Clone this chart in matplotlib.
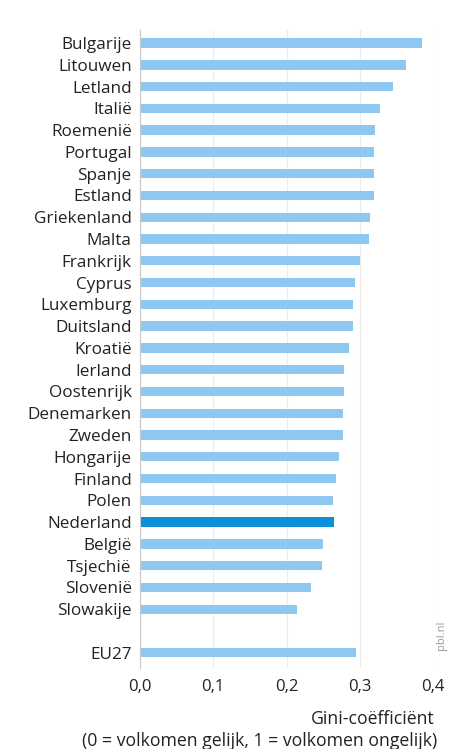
import matplotlib.pyplot as plt
import numpy as np

plt.rcParams['font.family'] = ['Open Sans', 'DejaVu Sans']

countries = ["Bulgarije", "Litouwen", "Letland", "Italië", "Roemenië", "Portugal",
             "Spanje", "Estland", "Griekenland", "Malta", "Frankrijk", "Cyprus",
             "Luxemburg", "Duitsland", "Kroatië", "Ierland", "Oostenrijk",
             "Denemarken", "Zweden", "Hongarije", "Finland", "Polen", "Nederland",
             "België", "Tsjechië", "Slovenië", "Slowakije"]
gini = [0.385, 0.363, 0.345, 0.327, 0.321, 0.320, 0.320, 0.320, 0.314, 0.313,
        0.300, 0.293, 0.291, 0.291, 0.285, 0.278, 0.278, 0.277, 0.277, 0.272,
        0.268, 0.264, 0.265, 0.250, 0.249, 0.234, 0.215]
eu_label = "EU27"
eu_value = 0.295
xticks = [0.0, 0.1, 0.2, 0.3, 0.4]
xticklabels = ["0,0", "0,1", "0,2", "0,3", "0,4"]

light = "#8ec8f0"
dark = "#0a8fd8"
text_col = "#222222"

fig = plt.figure(figsize=(4.57, 7.49), dpi=100)
ax = fig.add_axes([140 / 457, 1 - 668 / 749, 293 / 457, 638 / 749])

ypos = list(range(len(countries))) + [len(countries) + 1]
values = gini + [eu_value]
labels = countries + [eu_label]
colors = [dark if c == "Nederland" else light for c in labels]

ax.barh(ypos, values, height=0.43, color=colors, zorder=2)

ax.set_ylim(len(countries) + 1.7, -0.6)
ax.set_xlim(0, 0.4)
ax.set_yticks(ypos)
ax.set_yticklabels(labels, fontsize=12.3, color=text_col)
ax.set_xticks(xticks)
ax.set_xticklabels(xticklabels, fontsize=12, color=text_col)
ax.tick_params(length=0, pad=6)
ax.tick_params(axis='x', pad=8)

ax.grid(axis='x', color="#ececec", linewidth=0.8, zorder=0)
for s in ["top", "right", "bottom"]:
    ax.spines[s].set_visible(False)
ax.spines["left"].set_color("#c8c8c8")
ax.spines["left"].set_linewidth(0.8)

fig.text(435 / 457, 1 - 719 / 749, "Gini-coëfficiënt", ha='right', va='center',
         fontsize=12.7, color=text_col)
fig.text(437 / 457, 1 - 741 / 749, "(0 = volkomen gelijk, 1 = volkomen ongelijk)",
         ha='right', va='center', fontsize=12.7, color=text_col)
fig.text(441 / 457, 1 - 635 / 749, "pbl.nl", rotation=90, ha='center', va='center',
         fontsize=8, color="#999999")

fig.savefig("out.png", dpi=100, facecolor="white")
